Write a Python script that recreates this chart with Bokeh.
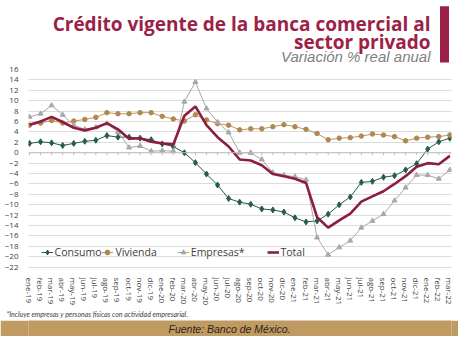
from bokeh.plotting import figure
from bokeh.models import Range1d, FixedTicker, Span, Legend, LegendItem, Label, BoxAnnotation
from bokeh.layouts import column
from bokeh.embed import file_html
from bokeh.resources import INLINE

# ---------------- data ----------------
meses = ["ene", "feb", "mar", "abr", "may", "jun", "jul", "ago", "sep", "oct", "nov", "dic"]
labels = [f"{m}-{a}" for a in ("19", "20", "21", "22") for m in meses][:39]

consumo = [1.8, 2.1, 1.9, 1.4, 1.8, 2.2, 2.4, 3.3, 3.0, 3.0, 2.8, 2.5,
           1.7, 1.2, 0.0, -1.9, -4.1, -6.2, -8.8, -9.5, -9.9, -10.8, -11.0, -11.4,
           -12.5, -13.3, -13.1, -11.8, -10.0, -8.5, -5.7, -5.5, -4.7, -4.4, -3.3, -2.1,
           0.7, 2.1, 2.8]
vivienda = [5.3, 5.7, 6.2, 5.7, 6.1, 6.4, 6.8, 7.7, 7.5, 7.5, 7.7, 7.7,
            7.0, 6.5, 6.1, 7.3, 6.3, 5.6, 5.3, 4.4, 4.6, 4.6, 5.0, 5.4,
            5.0, 4.5, 3.7, 2.5, 2.8, 2.9, 3.2, 3.6, 3.4, 3.1, 2.3, 2.8,
            3.0, 3.1, 3.4]
empresas = [6.9, 7.5, 9.1, 7.3, 5.3, 4.5, 4.9, 5.6, 4.0, 1.0, 1.3, 0.3,
            0.4, 0.3, 9.8, 13.6, 8.5, 5.9, 3.9, 0.0, 0.0, -1.3, -3.8, -4.3,
            -4.6, -5.2, -16.3, -19.6, -18.2, -16.9, -14.4, -13.1, -11.8, -9.2, -6.7, -4.3,
            -4.3, -5.0, -3.3]
total = [5.4, 6.0, 6.9, 5.9, 4.8, 4.3, 4.8, 5.7, 4.5, 2.7, 2.8, 2.1,
         1.8, 1.6, 7.1, 8.9, 5.3, 3.0, 1.2, -1.3, -1.5, -2.4, -4.1, -4.5,
         -5.0, -5.8, -12.4, -14.4, -13.0, -11.7, -9.4, -8.4, -7.4, -6.0, -4.5, -2.7,
         -2.0, -2.2, -0.6]
y_ticks = list(range(-22, 17, 2))
series_names = ["Consumo", "Vivienda", "Empresas*", "Total"]

titulo1 = "Crédito vigente de la banca comercial al"
titulo2 = "sector privado"
subtitulo = "Variación % real anual"
nota = "*Incluye empresas y personas físicas con actividad empresarial."
fuente = "Fuente: Banco de México."

# ---------------- styles ----------------
MAROON = "#9B2246"
TOTAL_C = "#8C1D40"
GREEN = "#255C4C"
TAN = "#BC955C"
GRAY = "#A8A8A8"
TXT = "#404040"
GOLD = "#BF9A63"
CREAM = "#FDF8EC"
W = 458

x = list(range(len(labels)))


def bare(h, fill="white", title=None):
    f = figure(width=W, height=h, x_range=Range1d(0, 1), y_range=Range1d(0, 1),
               output_backend="svg", toolbar_location=None, min_border=0,
               x_axis_location=None, y_axis_location=None, title=title,
               border_fill_color=fill, background_fill_color=fill)
    f.grid.visible = False
    f.outline_line_color = None
    return f


# ---------------- title block ----------------
pt = bare(64)
for txt, yy in ((titulo1, 23.5), (titulo2, 41)):
    pt.add_layout(Label(x=430, y=yy, x_units="canvas", y_units="canvas", text=txt,
                        text_align="right", text_baseline="alphabetic",
                        text_font="Open Sans", text_font_style="bold",
                        text_font_size="19px", text_color=MAROON))
pt.add_layout(Label(x=430, y=56, x_units="canvas", y_units="canvas", text=subtitulo,
                    text_align="right", text_baseline="alphabetic",
                    text_font="Liberation Sans", text_font_style="italic",
                    text_font_size="15px", text_color="#808080"))
pt.add_layout(BoxAnnotation(left=439.5, right=448.5, top=5.7, bottom=62,
                            left_units="canvas", right_units="canvas",
                            top_units="canvas", bottom_units="canvas",
                            fill_color=MAROON, fill_alpha=1, line_color=None))

# ---------------- chart ----------------
p = figure(width=W, height=244, x_range=Range1d(-0.09, 38.15), y_range=Range1d(-22.25, 16.0),
           output_backend="svg", toolbar_location=None,
           min_border_left=28, min_border_right=7, min_border_top=5, min_border_bottom=38)
p.outline_line_color = None
p.xgrid.visible = False
p.ygrid.grid_line_color = "#DCDCDC"
p.ygrid.grid_line_width = 1
p.yaxis.ticker = FixedTicker(ticks=y_ticks)
p.yaxis.axis_line_color = None
p.yaxis.major_tick_line_color = None
p.yaxis.minor_tick_line_color = None
p.yaxis.major_label_text_font = "Open Sans"
p.yaxis.major_label_text_font_size = "8px"
p.yaxis.major_label_text_color = TXT
p.yaxis.major_label_standoff = 4

p.xaxis.ticker = FixedTicker(ticks=x)
p.xaxis.major_label_overrides = {i: l for i, l in enumerate(labels)}
p.xaxis.major_label_orientation = "vertical"
p.xaxis.axis_line_color = None
p.xaxis.major_tick_line_color = None
p.xaxis.minor_tick_line_color = None
p.xaxis.major_label_text_font = "Open Sans"
p.xaxis.major_label_text_font_size = "8px"
p.xaxis.major_label_text_color = TXT
p.xaxis.major_label_standoff = 3

p.add_layout(Span(location=0, dimension="width", line_color="#BFBFBF", line_width=1))
p.segment(x0=x, y0=[0] * len(x), x1=x, y1=[-0.5] * len(x), line_color="#BFBFBF", line_width=1)

rc = p.line(x, consumo, line_color=GREEN, line_width=1)
sc = p.scatter(x, consumo, marker="diamond", size=6, fill_color=GREEN, line_color=GREEN)
rv = p.line(x, vivienda, line_color=TAN, line_width=1)
sv = p.scatter(x, vivienda, marker="circle", size=4.5, fill_color="#B08850", line_color="#B08850")
re_ = p.line(x, empresas, line_color=GRAY, line_width=1)
se = p.scatter(x, empresas, marker="triangle", size=5, fill_color=GRAY, line_color=GRAY)
rt = p.line(x, total, line_color=TOTAL_C, line_width=2.6)

leg_renderers = [[rc, sc], [rv, sv], [re_, se], [rt]]
leg_x = [12.6, 73.4, 148.8, 238.5]
for name, rends, lx in zip(series_names, leg_renderers, leg_x):
    lg = Legend(items=[LegendItem(label=name, renderers=rends)],
                orientation="horizontal", location=(lx, 9), padding=0, margin=0,
                glyph_width=12, glyph_height=12, label_standoff=2,
                label_text_font="Open Sans", label_text_font_size="10.5px",
                label_text_color=TXT, background_fill_alpha=0, border_line_color=None)
    p.add_layout(lg)

# ---------------- footnote ----------------
pn = bare(12, title=nota)
pn.title.align = "left"
pn.title.offset = -22
pn.title.standoff = 0
pn.title.vertical_align = "middle"
pn.title.text_font = "Lato"
pn.title.text_font_style = "italic"
pn.title.text_font_size = "7px"
pn.title.text_color = "#404040"

# ---------------- source bar ----------------
pb = bare(16, fill=GOLD)
pb.add_layout(Label(x=229, y=8.3, x_units="canvas", y_units="canvas", text=fuente,
                    text_align="center", text_baseline="middle",
                    text_font="Liberation Sans", text_font_style="italic",
                    text_font_size="10.5px", text_color="#2E2419"))
pc = bare(6, fill=CREAM)

layout = column(pt, p, pn, pb, pc, spacing=0)
open("out.html", "w").write(file_html(layout, INLINE))
